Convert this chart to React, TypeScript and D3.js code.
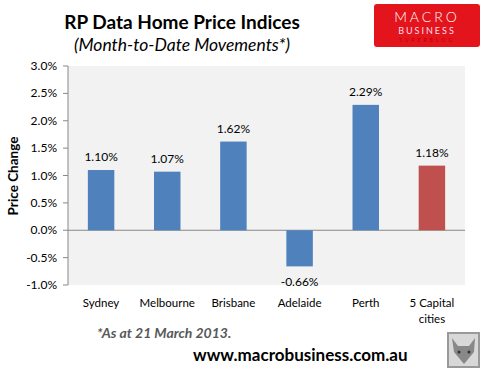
import React from "react";
import * as d3 from "d3";

const categories = ["Sydney", "Melbourne", "Brisbane", "Adelaide", "Perth", "5 Capital cities"];
const values = [1.10, 1.07, 1.62, -0.66, 2.29, 1.18];
const barColors = ["#4f81bd", "#4f81bd", "#4f81bd", "#4f81bd", "#4f81bd", "#c0504d"];
const yTicks = [-1, -0.5, 0, 0.5, 1, 1.5, 2, 2.5, 3];

const W = 489, H = 376;
const font = "Lato, 'Open Sans', sans-serif";

export default function App() {
  const x = d3.scaleBand<string>().domain(categories).range([68, 465]).paddingInner(0.6).paddingOuter(0.3);
  const y = d3.scaleLinear().domain([-1, 3]).range([285, 66]);
  const bw = x.bandwidth();
  return (
    <svg width={W} height={H} style={{ position: "absolute", left: 0, top: 0 }}>
      <rect width={W} height={H} fill="#fff" />
      <text x={182} y={29} textAnchor="middle" fontFamily={font} fontWeight="bold" fontSize={19} fill="#000">RP Data Home Price Indices</text>
      <text x={182} y={51} textAnchor="middle" fontFamily={font} fontStyle="italic" fontSize={17.5} fill="#000">(Month-to-Date Movements*)</text>
      {/* logo */}
      <rect x={374} y={4} width={106} height={43} fill="#e3141b" rx={3} />
      <text x={427} y={22} textAnchor="middle" fontFamily={font} fontSize={14} fontWeight={300} letterSpacing={3} fill="#fff">MACRO</text>
      <text x={427} y={34} textAnchor="middle" fontFamily={font} fontSize={9} letterSpacing={2} fill="#fde">BUSINESS</text>
      <text x={427} y={42} textAnchor="middle" fontFamily={font} fontSize={5} letterSpacing={3} fill="#b00">SUPERBLOG</text>
      {/* plot */}
      <rect x={68} y={66} width={397} height={219} fill="#f2f2f2" />
      <line x1={68} x2={465} y1={y(0)} y2={y(0)} stroke="#888" />
      <line x1={68} x2={68} y1={66} y2={285} stroke="#888" />
      {yTicks.map((t) => (
        <g key={t}>
          <line x1={63} x2={68} y1={y(t)} y2={y(t)} stroke="#888" />
          <text x={57} y={y(t) + 4} textAnchor="end" fontFamily={font} fontSize={12} fill="#000">{t.toFixed(1)}%</text>
        </g>
      ))}
      <text transform={`translate(18,${176}) rotate(-90)`} textAnchor="middle" fontFamily={font} fontWeight="bold" fontSize={13.5} fill="#000">Price Change</text>
      {categories.map((c, i) => {
        const v = values[i];
        const x0 = x(c)!;
        const top = y(Math.max(0, v));
        const h = Math.abs(y(v) - y(0));
        const lines = c === "5 Capital cities" ? ["5 Capital", "cities"] : [c];
        return (
          <g key={c}>
            <rect x={x0} y={top} width={bw} height={h} fill={barColors[i]} />
            <text x={x0 + bw / 2} y={v >= 0 ? y(v) - 9 : y(v) + 20} textAnchor="middle" fontFamily={font} fontSize={12} fill="#000">{v.toFixed(2)}%</text>
            {lines.map((l, j) => (
              <text key={l} x={x0 + bw / 2} y={307 + j * 16} textAnchor="middle" fontFamily={font} fontSize={11.5} fill="#000">{l}</text>
            ))}
          </g>
        );
      })}
      <text x={97} y={338} fontFamily={font} fontStyle="italic" fontWeight="bold" fontSize={14} fill="#595959">*As at 21 March 2013.</text>
      <text x={193} y={361} fontFamily={font} fontWeight="bold" fontSize={17} fill="#000">www.macrobusiness.com.au</text>
      {/* wolf icon */}
      <rect x={448} y={333} width={31} height={34} fill="#d8d8d8" stroke="#999" strokeWidth={2} />
      <path d="M452,338 L458,346 L469,346 L475,338 L474,352 L464,364 L454,352 Z" fill="#888" />
      <circle cx={459} cy={352} r={1.5} fill="#333" />
      <circle cx={469} cy={352} r={1.5} fill="#333" />
    </svg>
  );
}
